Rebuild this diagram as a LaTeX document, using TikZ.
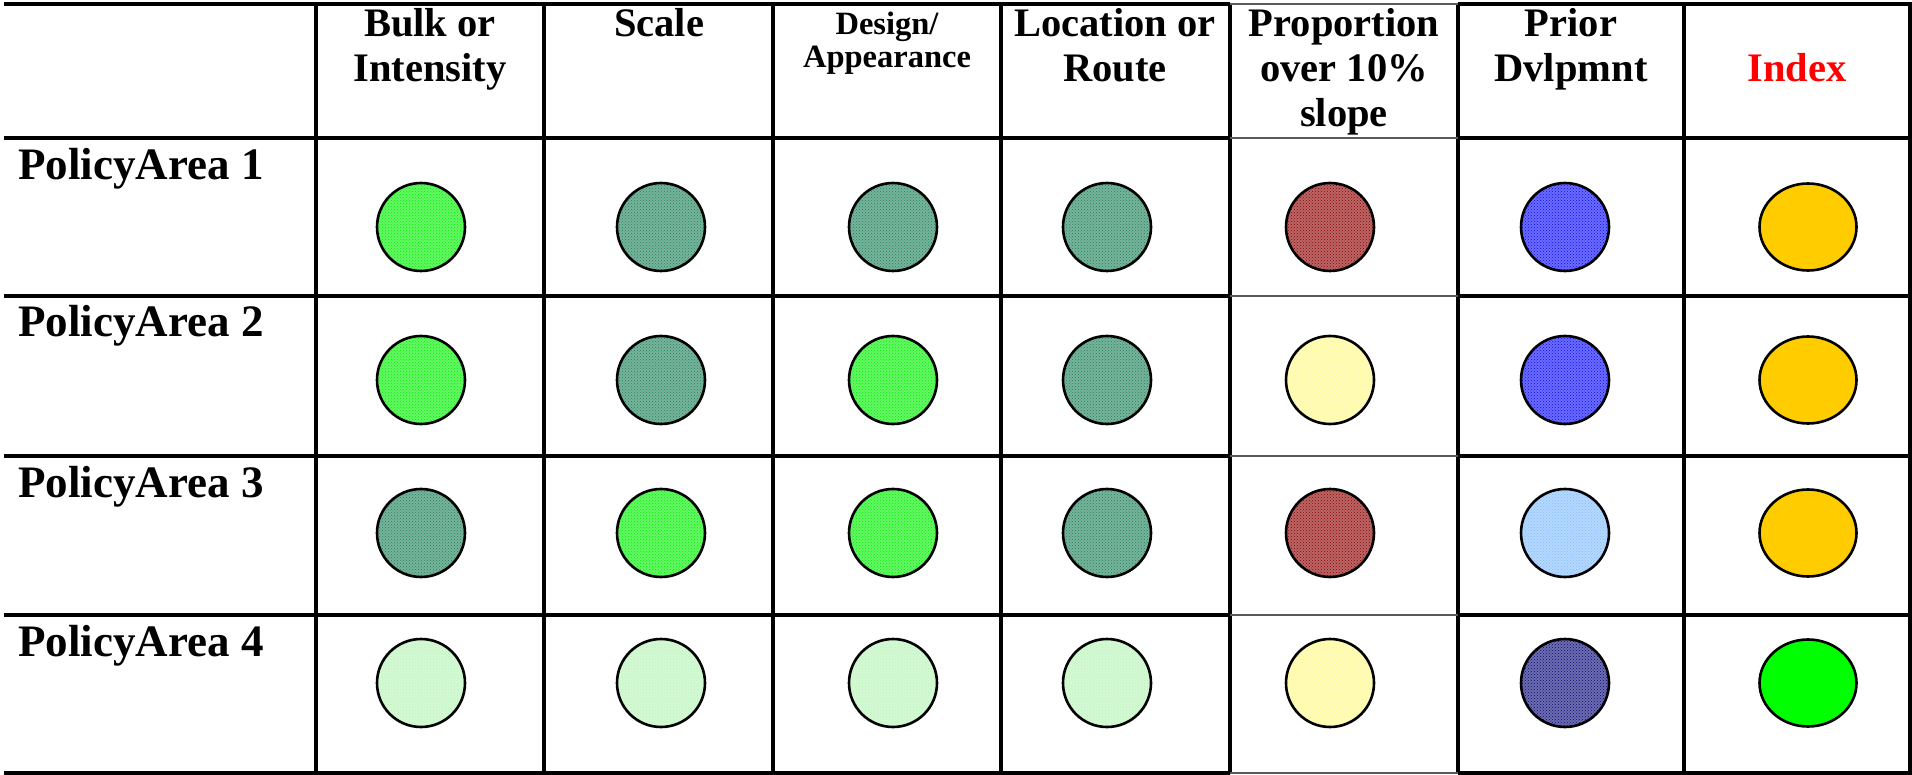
\documentclass[tikz,border=0pt]{standalone}
\usepackage{fontspec}
\setmainfont{Liberation Serif}
\usetikzlibrary{
    patterns,
    shapes.geometric
}
\definecolor{speckgreen}{RGB}{0,240,0}
\definecolor{specksea}{RGB}{30,130,90}
\definecolor{speckred}{RGB}{140,0,0}
\definecolor{speckblue}{RGB}{10,10,255}
\definecolor{specksky}{RGB}{130,190,255}
\definecolor{specknavy}{RGB}{10,10,120}
\definecolor{speckcream}{RGB}{255,250,140}
\definecolor{speckmint}{RGB}{185,245,185}
\definecolor{idxgoldc}{RGB}{255,204,0}
\definecolor{idxgreenc}{RGB}{0,255,0}
\definecolor{slopegray}{RGB}{90,90,90}

\tikzset{
    gridline/.style={line width=3.2pt, black},
    headtext/.style={font=\bfseries\fontsize{40.5}{45}\selectfont, align=center, anchor=base, inner sep=0pt},
    rowtext/.style={font=\bfseries\fontsize{45}{50}\selectfont, anchor=base west, inner sep=0pt},
    ball/.style={circle, draw=black, line width=2.6pt, minimum size=88pt, inner sep=0pt},
    speck/.style={ball, preaction={fill=#1!60!white}, pattern=crosshatch dots, pattern color=#1},
    dotgreen/.style={speck=speckgreen},
    dotsea/.style={speck=specksea},
    dotred/.style={speck=speckred},
    dotblue/.style={speck=speckblue},
    dotsky/.style={speck=specksky},
    dotnavy/.style={speck=specknavy},
    dotcream/.style={speck=speckcream},
    dotmint/.style={speck=speckmint},
    idxball/.style={ellipse, draw=black, line width=2.6pt, minimum width=97pt, minimum height=87pt, inner sep=0pt, fill=#1}
}

\begin{document}
\begin{tikzpicture}[x=1pt, y=-1pt]
    \useasboundingbox (0, 0) rectangle (1912, 775);
    % table grid
    \draw[gridline]
    (4, 4) -- (1230, 4)
    (1458, 4) -- (1910, 4) -- (1910, 773) -- (1458, 773)
    (1230, 773) -- (4, 773) -- cycle
    (4, 138) -- (1230, 138)   (1458, 138) -- (1910, 138)
    (4, 296) -- (1230, 296)   (1458, 296) -- (1910, 296)
    (4, 456) -- (1230, 456)   (1458, 456) -- (1910, 456)
    (4, 615) -- (1230, 615)   (1458, 615) -- (1910, 615)
    (316, 4) -- (316, 773)
    (544, 4) -- (544, 773)
    (773, 4) -- (773, 773)
    (1001, 4) -- (1001, 773)
    (1230, 4) -- (1230, 773)
    (1458, 4) -- (1458, 773)
    (1684, 4) -- (1684, 773);
    \draw[line width=2.4pt, slopegray]
    (1230, 4) -- (1458, 4)
    (1230, 138) -- (1458, 138)
    (1230, 296) -- (1458, 296)
    (1230, 456) -- (1458, 456)
    (1230, 615) -- (1458, 615)
    (1230, 773) -- (1458, 773);
    % column headers (anchored on the last line)
    \node[headtext] (bulk) at (430, 82) {Bulk or\\Intensity};
    \node[headtext] (scale) at (659, 37) {Scale};
    \node[headtext, font=\bfseries\fontsize{32.5}{33}\selectfont] (design) at (887, 68) {Design/\\Appearance};
    \node[headtext] (location) at (1115, 82) {Location or\\Route};
    \node[headtext] (slope) at (1344, 127) {Proportion\\over 10\%\\slope};
    \node[headtext] (prior) at (1571, 82) {Prior\\Dvlpmnt};
    \node[headtext, text=red] (index) at (1797, 82) {Index};
    % row labels
    \node[rowtext] (area1) at (18, 180) {PolicyArea 1};
    \node[rowtext] (area2) at (18, 337) {PolicyArea 2};
    \node[rowtext] (area3) at (18, 497) {PolicyArea 3};
    \node[rowtext] (area4) at (18, 656) {PolicyArea 4};
    % ratings, PolicyArea 1
    \node[dotgreen] (c11) at (421, 227) {};
    \node[dotsea] (c12) at (661, 227) {};
    \node[dotsea] (c13) at (893, 227) {};
    \node[dotsea] (c14) at (1107, 227) {};
    \node[dotred] (c15) at (1330, 227) {};
    \node[dotblue] (c16) at (1565, 227) {};
    \node[idxball=idxgoldc] (c17) at (1808, 227) {};
    % ratings, PolicyArea 2
    \node[dotgreen] (c21) at (421, 380) {};
    \node[dotsea] (c22) at (661, 380) {};
    \node[dotgreen] (c23) at (893, 380) {};
    \node[dotsea] (c24) at (1107, 380) {};
    \node[dotcream] (c25) at (1330, 380) {};
    \node[dotblue] (c26) at (1565, 380) {};
    \node[idxball=idxgoldc] (c27) at (1808, 380) {};
    % ratings, PolicyArea 3
    \node[dotsea] (c31) at (421, 533) {};
    \node[dotgreen] (c32) at (661, 533) {};
    \node[dotgreen] (c33) at (893, 533) {};
    \node[dotsea] (c34) at (1107, 533) {};
    \node[dotred] (c35) at (1330, 533) {};
    \node[dotsky] (c36) at (1565, 533) {};
    \node[idxball=idxgoldc] (c37) at (1808, 533) {};
    % ratings, PolicyArea 4
    \node[dotmint] (c41) at (421, 683) {};
    \node[dotmint] (c42) at (661, 683) {};
    \node[dotmint] (c43) at (893, 683) {};
    \node[dotmint] (c44) at (1107, 683) {};
    \node[dotcream] (c45) at (1330, 683) {};
    \node[dotnavy] (c46) at (1565, 683) {};
    \node[idxball=idxgreenc] (c47) at (1808, 683) {};
\end{tikzpicture}
\end{document}
